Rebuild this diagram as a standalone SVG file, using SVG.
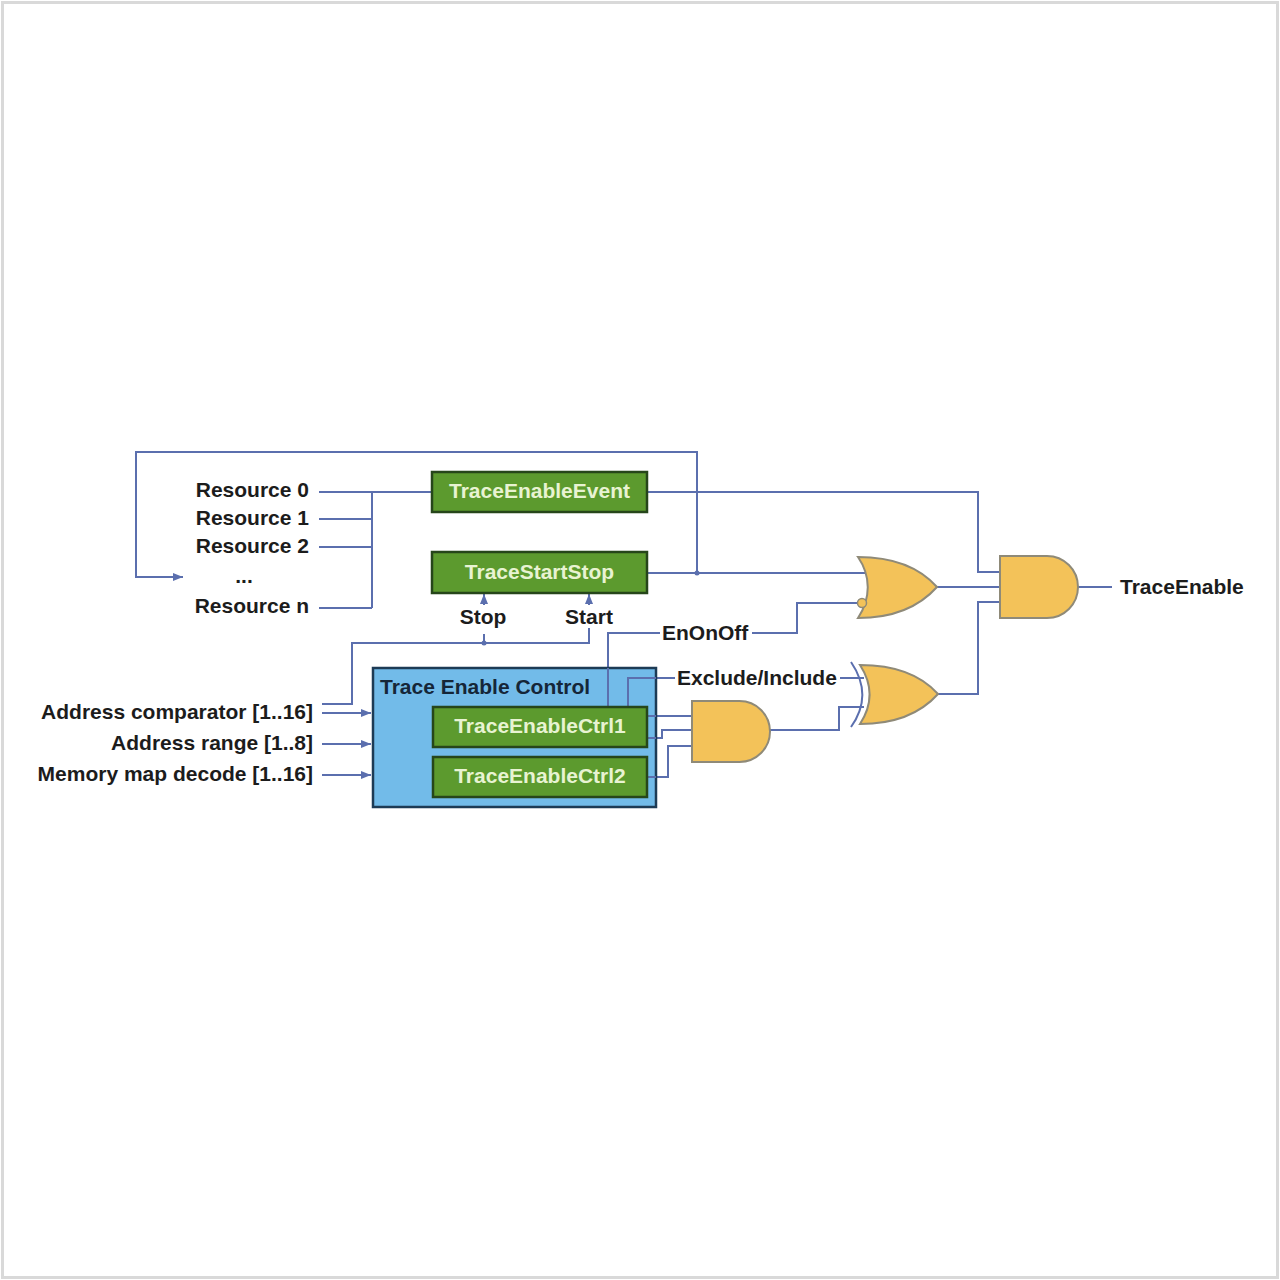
<svg xmlns="http://www.w3.org/2000/svg" width="1280" height="1280" viewBox="0 0 1280 1280">
<defs>
<style>
.w{fill:none;stroke:#5b6fae;stroke-width:2}
.lbl{font-family:"Liberation Sans",Arial,sans-serif;font-weight:bold;font-size:21px;fill:#1c1c1c}
.gb{fill:#5c9a2e;stroke:#26461a;stroke-width:2.5}
.gt{font-family:"Liberation Sans",Arial,sans-serif;font-weight:bold;font-size:21px;fill:#e8f3d2;text-anchor:middle}
.gate{fill:#f3c259;stroke:#8f8a78;stroke-width:2}
</style>
<marker id="ah" viewBox="0 0 10 10" refX="10" refY="5" markerWidth="5" markerHeight="5" orient="auto">
<path d="M0,1 L10,5 L0,9 Z" fill="#5b6fae"/>
</marker>
</defs>
<rect x="0" y="0" width="1280" height="1280" fill="#ffffff"/>
<rect x="2.5" y="2.5" width="1275" height="1275" fill="none" stroke="#d9d9d9" stroke-width="3"/>

<g id="connectors">
<path class="w" d="M697,573 V452 H136 V577 H183" marker-end="url(#ah)"/>
<path class="w" d="M319,492 H372 M319,519 H372 M319,547 H372 M319,608 H372 M372,492 V608 M372,492 H432"/>
<path class="w" d="M647,492 H978 V572 H1000"/>
<path class="w" d="M647,573 H866"/>
<circle cx="697" cy="573" r="2.5" fill="#5b6fae"/>
<path class="w" d="M484,605 V594" marker-end="url(#ah)"/>
<path class="w" d="M589,605 V594" marker-end="url(#ah)"/>
<path class="w" d="M322,704 H352 V643 H589 V628 M484,643 V634"/>
<circle cx="484" cy="643" r="2.5" fill="#5b6fae"/>
<path class="w" d="M322,713 H371" marker-end="url(#ah)"/>
<path class="w" d="M322,744 H371" marker-end="url(#ah)"/>
<path class="w" d="M322,775 H371" marker-end="url(#ah)"/>
<path class="w" d="M608,707 V633 H660 M752,633 H797 V603 H858"/>
<path class="w" d="M628,707 V678 H675 M840,678 H864"/>
<path class="w" d="M647,716 H692 M647,738 H662 V730 H692 M647,777 H668 V746 H692"/>
<path class="w" d="M770,730 H839 V707 H864"/>
<path class="w" d="M937,587 H1000"/>
<path class="w" d="M938,694 H978 V602 H1000"/>
<path class="w" d="M1078,587 H1112"/>
</g>

<g id="resources">
<text class="lbl" x="309" y="497" text-anchor="end">Resource 0</text>
<text class="lbl" x="309" y="525" text-anchor="end">Resource 1</text>
<text class="lbl" x="309" y="553" text-anchor="end">Resource 2</text>
<text class="lbl" x="244" y="583" text-anchor="middle">...</text>
<text class="lbl" x="309" y="613" text-anchor="end">Resource n</text>
</g>

<g id="address-inputs">
<text class="lbl" x="313" y="719" text-anchor="end">Address comparator [1..16]</text>
<text class="lbl" x="313" y="750" text-anchor="end">Address range [1..8]</text>
<text class="lbl" x="313" y="781" text-anchor="end">Memory map decode [1..16]</text>
</g>

<g id="trace-enable-event">
<rect class="gb" x="432" y="472" width="215" height="40"/>
<text class="gt" x="539.5" y="498">TraceEnableEvent</text>
</g>

<g id="trace-start-stop">
<rect class="gb" x="432" y="552" width="215" height="41"/>
<text class="gt" x="539.5" y="579">TraceStartStop</text>
</g>

<g id="stop-start-labels">
<text class="lbl" x="483" y="624" text-anchor="middle">Stop</text>
<text class="lbl" x="589" y="624" text-anchor="middle">Start</text>
</g>

<g id="trace-enable-control">
<rect x="373" y="668" width="283" height="139" fill="#72bbe9" stroke="#1d3b55" stroke-width="2.5"/>
<text class="lbl" x="380" y="694" style="fill:#152638">Trace Enable Control</text>
</g>
<g id="inner-wires">
<path class="w" d="M608,668 V707 M628,707 V678 H656 M647,716 H656 M647,738 H656 M647,777 H656"/>
</g>

<g id="trace-enable-ctrl1">
<rect class="gb" x="433" y="707" width="214" height="40"/>
<text class="gt" x="540" y="733">TraceEnableCtrl1</text>
</g>

<g id="trace-enable-ctrl2">
<rect class="gb" x="433" y="757" width="214" height="40"/>
<text class="gt" x="540" y="783">TraceEnableCtrl2</text>
</g>

<g id="enonoff-label">
<text class="lbl" x="662" y="640">EnOnOff</text>
</g>
<g id="exclude-include-label">
<text class="lbl" x="677" y="685">Exclude/Include</text>
</g>

<g id="or-gate">
<path class="gate" d="M858,557 C895,557 920,568 937,587 C920,606 895,618 858,618 C871,598 871,576 858,557 Z"/>
<circle cx="862" cy="603" r="4.5" fill="#f3c259" stroke="#8f8a78" stroke-width="1.5"/>
</g>

<g id="and-gate-1">
<path class="gate" d="M692,701 H739.5 A30.5,30.5 0 0 1 739.5,762 H692 Z"/>
</g>

<g id="xor-gate">
<path class="gate" d="M860,665 C897,665 921,675 938,694 C921,713 897,724 860,724 C873,704 873,685 860,665 Z"/>
<path d="M851,662 C866,684 866,706 851,727" fill="none" stroke="#5b6fae" stroke-width="2"/>
</g>

<g id="and-gate-2">
<path class="gate" d="M1000,556 H1047 A31,31 0 0 1 1047,618 H1000 Z"/>
</g>

<g id="trace-enable-output">
<text class="lbl" x="1120" y="594">TraceEnable</text>
</g>
</svg>
